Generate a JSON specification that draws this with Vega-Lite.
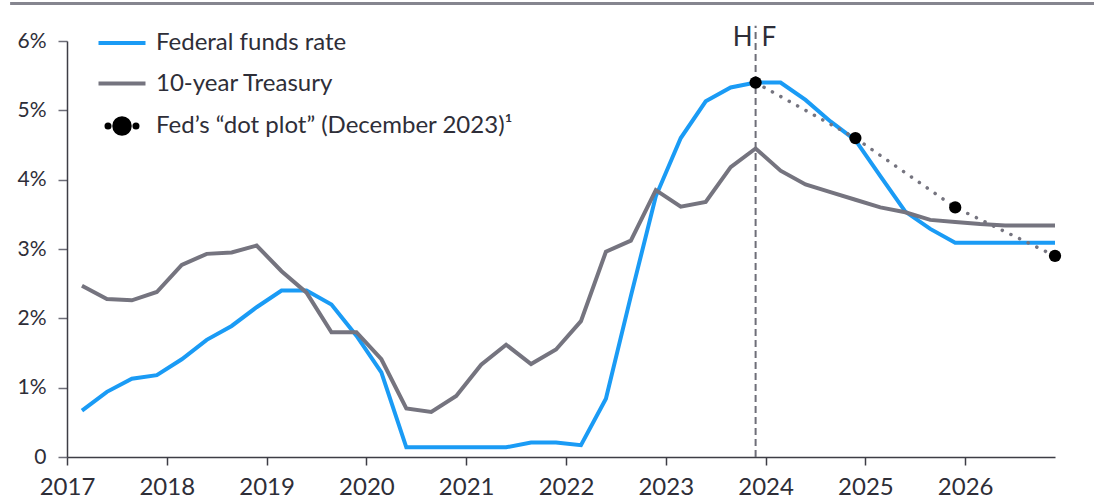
{
  "$schema": "https://vega.github.io/schema/vega-lite/v6.json",
  "width": 988,
  "height": 416,
  "autosize": {"type": "none"},
  "padding": {"left": 67, "top": 41, "right": 39, "bottom": 43},
  "background": "white",
  "config": {"view": {"stroke": null}, "font": "Lato"},
  "datasets": {
    "rates": [
      {"t": 2017.15, "Federal funds rate": 0.67, "10-year Treasury": 2.47},
      {"t": 2017.40, "Federal funds rate": 0.94, "10-year Treasury": 2.28},
      {"t": 2017.65, "Federal funds rate": 1.13, "10-year Treasury": 2.26},
      {"t": 2017.90, "Federal funds rate": 1.18, "10-year Treasury": 2.38},
      {"t": 2018.15, "Federal funds rate": 1.41, "10-year Treasury": 2.77},
      {"t": 2018.40, "Federal funds rate": 1.69, "10-year Treasury": 2.93},
      {"t": 2018.65, "Federal funds rate": 1.89, "10-year Treasury": 2.95},
      {"t": 2018.90, "Federal funds rate": 2.16, "10-year Treasury": 3.05},
      {"t": 2019.15, "Federal funds rate": 2.40, "10-year Treasury": 2.68},
      {"t": 2019.40, "Federal funds rate": 2.40, "10-year Treasury": 2.37},
      {"t": 2019.65, "Federal funds rate": 2.20, "10-year Treasury": 1.80},
      {"t": 2019.90, "Federal funds rate": 1.75, "10-year Treasury": 1.80},
      {"t": 2020.15, "Federal funds rate": 1.22, "10-year Treasury": 1.41},
      {"t": 2020.40, "Federal funds rate": 0.14, "10-year Treasury": 0.70},
      {"t": 2020.65, "Federal funds rate": 0.14, "10-year Treasury": 0.65},
      {"t": 2020.90, "Federal funds rate": 0.14, "10-year Treasury": 0.88},
      {"t": 2021.15, "Federal funds rate": 0.14, "10-year Treasury": 1.33},
      {"t": 2021.40, "Federal funds rate": 0.14, "10-year Treasury": 1.62},
      {"t": 2021.65, "Federal funds rate": 0.21, "10-year Treasury": 1.34},
      {"t": 2021.90, "Federal funds rate": 0.21, "10-year Treasury": 1.55},
      {"t": 2022.15, "Federal funds rate": 0.17, "10-year Treasury": 1.96},
      {"t": 2022.40, "Federal funds rate": 0.84, "10-year Treasury": 2.96},
      {"t": 2022.65, "Federal funds rate": 2.32, "10-year Treasury": 3.12},
      {"t": 2022.90, "Federal funds rate": 3.76, "10-year Treasury": 3.85},
      {"t": 2023.15, "Federal funds rate": 4.60, "10-year Treasury": 3.61},
      {"t": 2023.40, "Federal funds rate": 5.13, "10-year Treasury": 3.68},
      {"t": 2023.65, "Federal funds rate": 5.33, "10-year Treasury": 4.18},
      {"t": 2023.90, "Federal funds rate": 5.40, "10-year Treasury": 4.45},
      {"t": 2024.15, "Federal funds rate": 5.40, "10-year Treasury": 4.13},
      {"t": 2024.40, "Federal funds rate": 5.15, "10-year Treasury": 3.93},
      {"t": 2024.65, "Federal funds rate": 4.84, "10-year Treasury": 3.82},
      {"t": 2024.90, "Federal funds rate": 4.57, "10-year Treasury": 3.71},
      {"t": 2025.15, "Federal funds rate": 4.05, "10-year Treasury": 3.60},
      {"t": 2025.40, "Federal funds rate": 3.54, "10-year Treasury": 3.53},
      {"t": 2025.65, "Federal funds rate": 3.29, "10-year Treasury": 3.42},
      {"t": 2025.90, "Federal funds rate": 3.09, "10-year Treasury": 3.39},
      {"t": 2026.15, "Federal funds rate": 3.09, "10-year Treasury": 3.36},
      {"t": 2026.40, "Federal funds rate": 3.09, "10-year Treasury": 3.34},
      {"t": 2026.65, "Federal funds rate": 3.09, "10-year Treasury": 3.34},
      {"t": 2026.90, "Federal funds rate": 3.09, "10-year Treasury": 3.34}
    ],
    "dots": [
      {"t": 2023.9, "v": 5.4},
      {"t": 2024.9, "v": 4.6},
      {"t": 2025.9, "v": 3.6},
      {"t": 2026.9, "v": 2.9}
    ],
    "border": [{"x": 2016.43, "x2": 2027.3, "y": 6.54}],
    "marker": [{"x": 2023.9, "y": 0, "y2": 6.22}],
    "hf": [
      {"x": 2023.9, "y": 6.04, "label": "H"}
    ],
    "hf2": [
      {"x": 2023.9, "y": 6.04, "label": "F"}
    ]
  },
  "layer": [
    {
      "data": {"name": "border"},
      "mark": {"type": "rule", "color": "#85858f", "strokeWidth": 3},
      "encoding": {
        "x": {"field": "x", "type": "quantitative"},
        "x2": {"field": "x2"},
        "y": {"field": "y", "type": "quantitative"}
      }
    },
    {
      "data": {"name": "marker"},
      "mark": {"type": "rule", "color": "#6e6e78", "strokeWidth": 2, "strokeDash": [7, 4]},
      "encoding": {
        "x": {"field": "x", "type": "quantitative"},
        "y": {"field": "y", "type": "quantitative"},
        "y2": {"field": "y2"}
      }
    },
    {
      "data": {"name": "hf"},
      "mark": {"type": "text", "align": "right", "baseline": "middle", "dx": -3, "fontSize": 26, "color": "#2E2E38"},
      "encoding": {
        "x": {"field": "x", "type": "quantitative"},
        "y": {"field": "y", "type": "quantitative"},
        "text": {"field": "label"}
      }
    },
    {
      "data": {"name": "hf2"},
      "mark": {"type": "text", "align": "left", "baseline": "middle", "dx": 6, "fontSize": 26, "color": "#2E2E38"},
      "encoding": {
        "x": {"field": "x", "type": "quantitative"},
        "y": {"field": "y", "type": "quantitative"},
        "text": {"field": "label"}
      }
    },
    {
      "data": {"name": "rates"},
      "transform": [{"fold": ["Federal funds rate", "10-year Treasury"], "as": ["series", "v"]}],
      "mark": {"type": "line", "strokeWidth": 4, "strokeJoin": "miter"},
      "encoding": {
        "x": {
          "field": "t", "type": "quantitative",
          "scale": {"domain": [2017, 2026.9], "nice": false, "zero": false},
          "axis": {
            "values": [2017, 2018, 2019, 2020, 2021, 2022, 2023, 2024, 2025, 2026],
            "format": "d", "title": null, "grid": false, "labelFlush": false,
            "domainColor": "#3d3d45", "domainWidth": 1.5,
            "tickColor": "#3d3d45", "tickSize": 8, "tickWidth": 1.5,
            "labelFontSize": 24, "labelColor": "#2E2E38", "labelPadding": 10
          }
        },
        "y": {
          "field": "v", "type": "quantitative",
          "scale": {"domain": [0, 6], "nice": false},
          "axis": {
            "values": [0, 1, 2, 3, 4, 5, 6],
            "labelExpr": "datum.value == 0 ? '0' : datum.value + '%'",
            "title": null, "grid": false, "labelFlush": false,
            "domainColor": "#3d3d45", "domainWidth": 1.5,
            "tickColor": "#6e6e78", "tickSize": 9, "tickWidth": 1.5,
            "labelFontSize": 21, "labelColor": "#2E2E38", "labelPadding": 12
          }
        },
        "color": {
          "field": "series", "type": "nominal",
          "scale": {
            "domain": ["Federal funds rate", "10-year Treasury", "Fed’s “dot plot” (December 2023)¹"],
            "range": ["#1A9BF5", "#75747f", "#000000"]
          },
          "legend": {
            "title": null,
            "orient": "none",
            "legendX": 41,
            "legendY": -12,
            "padding": 0,
            "symbolSize": 552,
            "rowPadding": 14.5,
            "labelOffset": 20,
            "labelFontSize": 24,
            "labelLimit": 600,
            "labelColor": "#2E2E38",
            "labelFont": "Lato",
            "encode": {
              "symbols": {
                "update": {
                  "shape": {"signal": "indexof(datum.value, 'dot plot') >= 0 ? 'M-0.66,0A0.66,0.66,0,1,1,0.66,0A0.66,0.66,0,1,1,-0.66,0Z M-1.32,0A0.13,0.13,0,1,1,-1.06,0A0.13,0.13,0,1,1,-1.32,0Z M1.06,0A0.13,0.13,0,1,1,1.32,0A0.13,0.13,0,1,1,1.06,0Z' : 'M-2,0H2'"},
                  "fill": {"signal": "indexof(datum.value, 'dot plot') >= 0 ? '#000000' : 'transparent'"},
                  "stroke": {"signal": "indexof(datum.value, 'dot plot') >= 0 ? 'transparent' : (indexof(datum.value, 'Federal') >= 0 ? '#1A9BF5' : '#75747f')"},
                  "strokeWidth": {"value": 4},
                  "opacity": {"value": 1}
                }
              }
            }
          }
        },
        "order": {"field": "t"}
      }
    },
    {
      "data": {"name": "dots"},
      "mark": {"type": "line", "color": "#75747f", "strokeWidth": 3.5, "strokeDash": [0.1, 9.5], "strokeCap": "round"},
      "encoding": {
        "x": {"field": "t", "type": "quantitative"},
        "y": {"field": "v", "type": "quantitative"}
      }
    },
    {
      "data": {"name": "dots"},
      "mark": {"type": "point", "filled": true, "color": "#000000", "size": 150, "opacity": 1},
      "encoding": {
        "x": {"field": "t", "type": "quantitative"},
        "y": {"field": "v", "type": "quantitative"}
      }
    }
  ]
}
